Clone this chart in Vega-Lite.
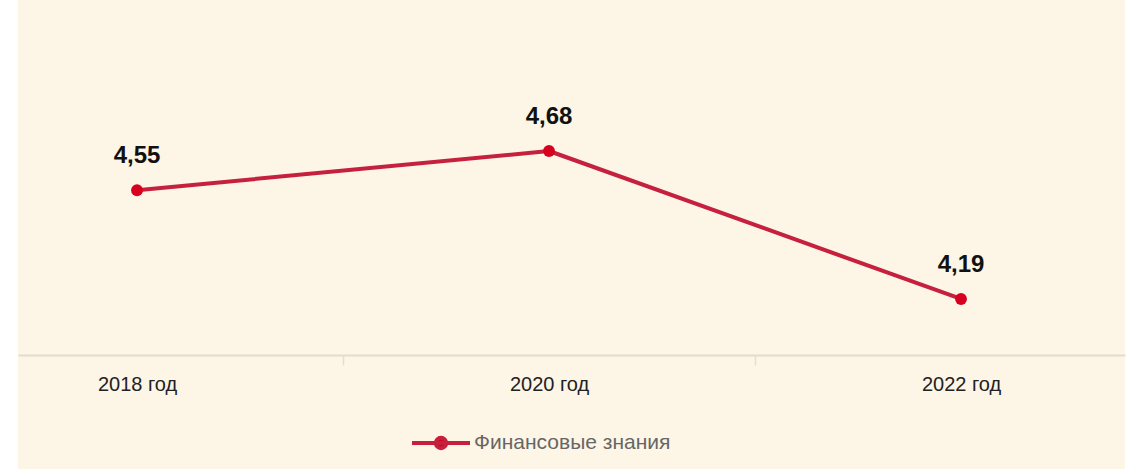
{
  "$schema": "https://vega.github.io/schema/vega-lite/v6.json",
  "autosize": "none",
  "width": 1107,
  "height": 469,
  "padding": {"left": 18, "right": 4, "top": 0, "bottom": 0},
  "background": "white",
  "view": {"fill": "#fdf5e6", "stroke": null},
  "config": {"font": "Liberation Sans"},
  "data": {
    "values": [
      {"year": 2018, "value": 4.55, "label": "4,55", "series": "Финансовые знания"},
      {"year": 2020, "value": 4.68, "label": "4,68", "series": "Финансовые знания"},
      {"year": 2022, "value": 4.19, "label": "4,19", "series": "Финансовые знания"}
    ]
  },
  "encoding": {
    "x": {
      "field": "year",
      "type": "quantitative",
      "scale": {"domain": [2017.4223, 2022.796], "nice": false, "zero": false},
      "axis": {
        "title": null,
        "orient": "bottom",
        "offset": -114,
        "values": [2018, 2019, 2020, 2021, 2022],
        "labelExpr": "datum.value % 2 == 0 ? datum.value + ' год' : ''",
        "labelFont": "Liberation Sans",
        "labelFontSize": 20,
        "labelColor": "#222222",
        "labelPadding": 9,
        "labelFlush": false,
        "labelOverlap": false,
        "domainColor": "#e3dccb",
        "domainWidth": 2,
        "tickColor": "#e6dfcf",
        "tickWidth": 1.5,
        "tickSize": 10,
        "tickOpacity": {"condition": {"test": "datum.value % 2 == 1", "value": 1}, "value": 0},
        "grid": false
      }
    },
    "y": {
      "field": "value",
      "type": "quantitative",
      "scale": {"domain": [3.627, 5.18], "nice": false, "zero": false},
      "axis": null
    }
  },
  "layer": [
    {
      "mark": {"type": "line", "strokeWidth": 4, "strokeCap": "round", "strokeJoin": "round"},
      "encoding": {
        "color": {
          "field": "series",
          "type": "nominal",
          "scale": {"range": ["#c5203e"]},
          "legend": {
            "title": null,
            "orient": "none",
            "legendX": 392,
            "legendY": 412,
            "symbolType": "M-1,0H1M0.18,0A0.18,0.18,0,1,1,-0.18,0A0.18,0.18,0,1,1,0.18,0Z",
            "symbolSize": 3364,
            "symbolStrokeWidth": 4,
            "symbolOffset": 0,
            "labelFont": "Liberation Sans",
            "labelFontSize": 21,
            "labelColor": "#666666",
            "labelOffset": 2,
            "labelLimit": 500,
            "encode": {
              "symbols": {
                "update": {
                  "fill": {"value": "#d7001f"},
                  "stroke": {"value": "#c5203e"},
                  "strokeWidth": {"value": 4}
                }
              }
            }
          }
        }
      }
    },
    {
      "mark": {"type": "point", "filled": true, "size": 140, "color": "#d7001f", "opacity": 1}
    },
    {
      "mark": {"type": "text", "dy": -34, "fontSize": 24, "fontWeight": "bold", "color": "#111111", "font": "Liberation Sans", "baseline": "middle", "align": "center"},
      "encoding": {"text": {"field": "label"}}
    }
  ]
}
